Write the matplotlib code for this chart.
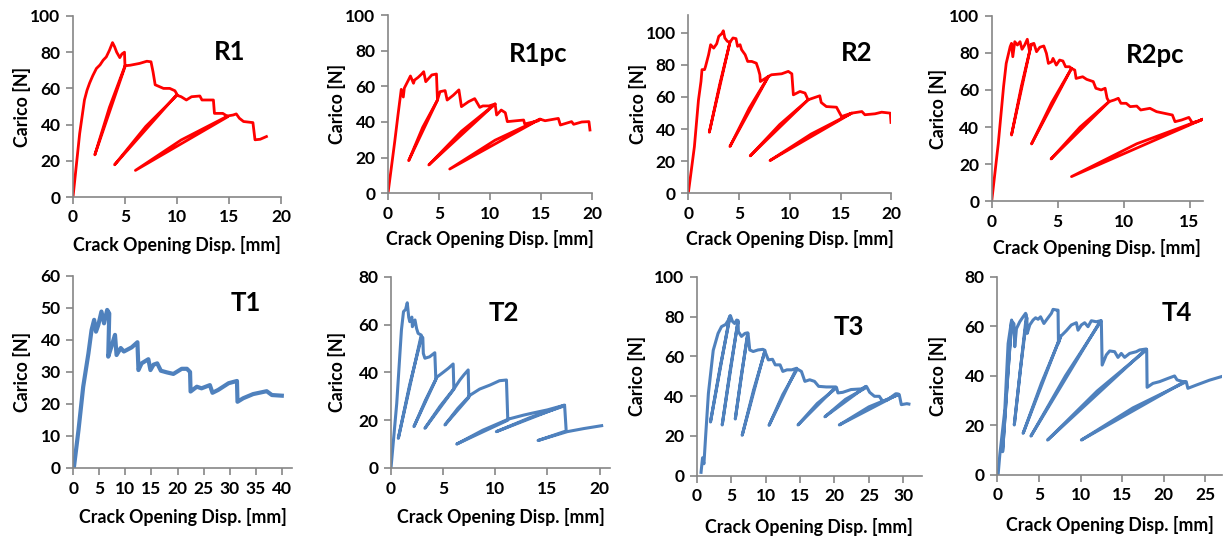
import matplotlib
matplotlib.use('Agg')
import matplotlib.pyplot as plt

plt.rcParams['font.family'] = ['Lato', 'DejaVu Sans']
plt.rcParams['font.weight'] = 'bold'

RED = '#ff0000'
BLUE = '#4f81bd'

# ---- top row (red) ----
r1_x = [0, 0.64, 1.1, 1.35, 1.6, 1.9, 2.25, 2.6, 2.9, 3.2, 3.5, 3.8, 4.0, 4.2, 4.5, 4.7, 4.95, 5.0,
		2.1, 3.5, 5.0, 5.5, 6.4, 7.1, 7.5, 7.7, 7.9, 8.7, 9.3, 9.8, 10.0,
		4.0, 7.0, 10.0, 10.4, 10.9, 11.4, 12.2, 12.4, 13.5, 13.6, 14.4, 14.9,
		6.0, 10.4, 14.9, 15.4, 15.7, 16.0, 16.4, 17.3, 17.5, 18.0, 18.6]
r1_y = [0, 35, 53.6, 59, 63, 67, 71, 73, 75.6, 77.4, 81, 85.3, 83, 80, 77, 79, 80, 72,
		23.3, 49.5, 72.5, 72.8, 73.8, 75, 74.7, 69, 62, 60, 60, 58.7, 56.7,
		17.8, 39, 56.2, 55.4, 53.6, 55.4, 55.8, 53.6, 53.6, 46.2, 46.2, 44.4,
		14.7, 31.5, 44.8, 45.3, 45.9, 43.5, 41.7, 41.1, 31.6, 31.9, 33.4]

r1pc_x = [0, 0.66, 0.98, 1.3, 1.5, 1.6, 2.0, 2.2, 2.5, 2.6, 2.95, 3.3, 3.5, 3.7, 4.0, 4.3, 4.75, 4.85,
		2.03, 3.4, 4.85, 5.1, 5.6, 5.8, 6.4, 6.95, 7.2, 7.9, 8.5, 9.0, 9.3, 9.9, 10.5,
		4.0, 7.2, 10.5, 10.65, 11.1, 11.5, 11.7, 13.3, 13.4, 14.75, 14.9,
		6.05, 10.5, 14.9, 15.4, 16.7, 16.9, 18.0, 18.2, 19.0, 19.7, 19.8]
r1pc_y = [0, 29, 44, 58.3, 54, 59, 63.5, 65.8, 61.7, 63.5, 65, 66.9, 68.2, 62.6, 64.5, 66.4, 66.9, 52.3,
		18.3, 37, 52.3, 57, 57.6, 52.3, 55, 58, 48.6, 51.4, 53.1, 48.2, 49, 49, 50.1,
		15.9, 34.8, 50.1, 43.9, 46.7, 45.2, 40.2, 41.1, 38.9, 40.7, 41.6,
		13.6, 29.8, 41.6, 40.7, 42, 38.3, 40.2, 38.7, 40, 40.2, 35.5]

r2_x = [0, 0.6, 1.0, 1.25, 1.35, 1.6, 1.7, 2.0, 2.2, 2.5, 2.8, 3.0, 3.3, 3.45, 3.6, 3.85, 4.1,
		2.07, 3.1, 4.1, 4.4, 4.7, 4.85, 5.1, 5.25, 5.6, 5.85, 6.25, 6.7, 6.9, 7.05, 7.1, 7.9,
		4.1, 6.0, 7.9, 8.2, 9.2, 9.85, 10.2, 10.35, 11.0, 11.5, 11.8,
		6.1, 9.0, 11.8, 12.3, 12.95, 13.1, 13.6, 14.6, 15.1, 15.8, 16.1,
		8.05, 12.1, 16.1, 17.1, 17.4, 18.4, 19.05, 19.9, 19.97]
r2_y = [0, 29, 58, 69.6, 77, 77, 79, 86.3, 92.5, 90.4, 93.1, 97.7, 99.4, 101.2, 96.7, 94.6, 94,
		38, 68, 94, 96.7, 96.3, 91.5, 92.5, 89.4, 86.3, 82.1, 82.1, 81, 77.3, 73.8, 69.6, 72.8,
		29.1, 53, 72.8, 73.8, 74.4, 75.9, 74.4, 61.3, 63.4, 62.4, 58.2,
		23.3, 42.8, 58.2, 59.3, 60.7, 56.5, 54, 53.6, 47.8, 49.3, 49.9,
		20.4, 36.9, 49.9, 50.9, 48.9, 49.5, 50.5, 49.9, 44.1]

r2pc_x = [0, 0.5, 0.9, 1.1, 1.25, 1.4, 1.5, 1.6, 1.75, 1.95, 2.15, 2.3, 2.5, 2.7, 2.85, 3.0,
		1.5, 2.25, 3.0, 3.2, 3.4, 3.65, 3.95, 4.15, 4.3, 4.55, 4.65, 4.9, 5.15, 5.4, 5.6, 5.9, 6.05,
		3.02, 4.55, 6.05, 6.3, 6.4, 6.9, 7.2, 7.7, 7.9, 8.3, 8.6, 8.75, 8.9,
		4.5, 6.7, 8.9, 9.3, 9.6, 9.8, 10.2, 10.5, 11.0, 11.3, 12.0, 12.5, 13.1, 13.7, 13.9, 14.4,
		14.95, 15.2, 15.6, 16.0, 6.05, 11.0, 16.0]
r2pc_y = [0, 31.2, 61.8, 74.3, 78.8, 83.3, 85.1, 77.9, 86, 84.2, 86, 81.9, 84.2, 87.3, 81.5, 84.6,
		35.7, 62, 84.6, 85.1, 80.6, 83, 83.7, 79.7, 74.3, 75.2, 77, 73.4, 76.1, 75.6, 72.5, 72.5, 71.6,
		30.9, 53.2, 71.6, 70.7, 66.2, 67.1, 65.7, 64.5, 60.9, 60, 60.9, 55.5, 53.7,
		22.8, 40, 53.7, 54.6, 55.5, 52.8, 52.8, 51, 51.3, 49.2, 50.1, 48.3, 47.4, 46.5, 42.9, 43.8,
		45.2, 42.4, 42.9, 44.2, 13.3, 31, 44.2]

# ---- bottom row (blue) ----
t1_x = [0.1, 1.0, 1.9, 2.9, 3.5, 4.0, 4.35, 4.8, 5.4, 5.9, 6.5, 6.9, 6.7, 7.4, 8.0, 8.3, 9.1, 9.7,
		11.2, 12.3, 12.5, 13.1, 14.4, 14.8, 15.4, 16.1, 16.8, 17.9, 19.2, 20.8, 21.8, 22.4, 22.5,
		23.7, 24.6, 26.2, 26.7, 27.8, 29.8, 31.4, 31.5, 32.6, 34.5, 37.1, 38.1, 40.0]
t1_y = [0, 11.9, 25.4, 35.8, 43.1, 46.3, 42.6, 44.7, 48.9, 45.2, 49.4, 48.3, 34.8, 38.4, 41.6, 35.3, 37.5, 36.4,
		37.7, 39.3, 30.6, 32.7, 34, 30.6, 32.3, 32.7, 30.4, 29.9, 29.4, 31, 31, 30, 23.9,
		25.4, 24.9, 25.9, 23.5, 24.4, 26.5, 27.2, 20.7, 21.8, 23.1, 24, 22.8, 22.6]

t2_x = [0, 0.55, 1.0, 1.2, 1.4, 1.56, 1.7, 1.8, 2.0, 2.05, 2.3, 2.45, 2.6, 2.9,
		0.7, 1.8, 2.95, 3.05, 3.1, 3.25, 3.7, 4.2, 4.3,
		2.2, 3.3, 4.4, 5.0, 5.5, 5.96, 6.03,
		3.25, 4.7, 6.1, 6.6, 7.0, 7.4, 7.46,
		5.17, 6.4, 7.6, 8.5, 9.5, 10.4, 11.07, 11.2,
		6.3, 8.8, 11.3, 12.7, 13.5, 15.0, 16.65,
		10.1, 13.4, 16.65, 16.8, 14.1, 16.9, 18.5, 20.2]
t2_y = [0, 27, 57.7, 65.4, 66.3, 69.1, 63, 61.2, 63.1, 59.1, 61.9, 58.4, 56.3, 55.6,
		12.4, 35, 55, 54.5, 47.9, 45.9, 46.5, 48.2, 37,
		17.3, 28.3, 38, 40, 41.7, 43.5, 33,
		16.6, 25.8, 33.5, 36.8, 39, 41, 29.5,
		18, 24.9, 30.5, 33, 34.7, 36.5, 36.8, 20,
		10, 15.8, 20.5, 22.1, 22.9, 24.3, 26.3,
		15.2, 21.2, 26, 15.5, 11.5, 15.2, 16.5, 17.7]

t3_x = [0.63, 0.85, 1.05, 1.3, 1.7, 2.4, 3.1, 3.6, 4.2, 4.6, 4.8,
		2.0, 3.4, 4.85, 4.9, 5.2, 5.5, 5.8, 6.0,
		3.7, 4.85, 6.0, 6.05, 6.5, 7.0, 7.4,
		5.6, 6.5, 7.45, 7.7, 8.2, 8.9, 9.6, 9.9,
		6.6, 8.25, 9.9, 10.4, 11.0, 11.4, 12.1, 12.5, 13.1, 13.8, 14.5,
		10.5, 12.5, 14.6, 15.2, 15.7, 16.4, 17.1, 17.7, 18.8, 20.2,
		14.7, 17.5, 20.3, 20.5, 21.2, 22.4, 23.9, 24.6,
		18.6, 21.6, 24.7, 25.1, 25.8, 26.5, 27.0, 27.7, 28.9, 29.3,
		20.7, 25.0, 29.35, 29.4, 29.7, 30.5, 30.8]
t3_y = [1.7, 9, 6, 20, 41.4, 63, 71.5, 74.9, 76, 78.2, 80.2,
		27, 54.5, 80, 80.4, 77.5, 76.5, 78.2, 78,
		25.5, 53, 77.5, 72.4, 70, 71.5, 71.8,
		28.5, 51, 71.5, 63.2, 62.4, 63.2, 63.5, 63,
		20.3, 43, 62.5, 58.2, 58.5, 55.7, 55.7, 52.4, 53.2, 53.2, 54,
		25.3, 40.8, 53.6, 52.4, 47.4, 48.2, 47.4, 44.9, 44.6, 44.6,
		25.5, 36.3, 44.2, 41.6, 41.9, 43.3, 43.6, 44.9,
		29.6, 38.4, 44.5, 41.9, 39.9, 39.9, 37.4, 38.2, 41.2, 41,
		25.5, 34.6, 40.8, 40.7, 35.7, 36.2, 36]

t4_x = [0.1, 0.3, 0.9, 1.3, 1.72,
		0.64, 1.2, 1.75, 2.0, 2.1, 2.3, 2.7, 3.1, 3.4, 3.5,
		2.04, 2.8, 3.55, 3.6, 3.9, 4.3, 4.6, 4.9, 5.2, 5.6, 5.9, 6.5, 6.7, 7.2, 7.3, 7.35, 7.6,
		3.1, 5.3, 7.65, 8.3, 8.9, 9.5, 9.7, 10.1, 10.5, 10.9, 11.3, 11.9, 12.4,
		4.04, 8.2, 12.45, 12.5, 12.6, 13.1, 13.5, 14.1, 14.5, 14.9, 15.3, 15.9, 16.7, 17.1, 17.9,
		6.04, 12.0, 17.95, 18.0, 18.7, 19.5, 20.5, 21.3, 21.6, 22.3, 22.5,
		10.1, 16.3, 22.6, 22.7, 22.9, 23.9, 25.5, 26.9]
t4_y = [0, 8, 26, 53, 62.5,
		9.3, 37.5, 62, 61, 51.7, 59, 61.8, 63.8, 65.2, 64.5,
		20.1, 43.3, 63.5, 57.1, 60.5, 62.5, 63.4, 62.8, 63.8, 61.1, 62.5, 65.2, 66.8, 66.5, 66.5, 53.1, 56,
		16.7, 37, 56, 58.2, 60.5, 61.4, 58.4, 60.5, 61.4, 59.8, 62.2, 61.8, 62.2,
		15.6, 40, 62, 62.2, 44.3, 48.4, 50, 49.7, 47.4, 49, 47.4, 49, 49.7, 50.4, 50.8,
		14.0, 33.8, 50.5, 35.3, 36.9, 37.6, 38.9, 39.9, 38.3, 37.6, 37.6,
		14.0, 27, 37.4, 37.6, 34.9, 36.2, 38.2, 39.6]

W, H = 1223, 540


def panel(fig, box, x, y, color, lw, xmax, xticks, ymax, yticks, name, name_pos, lab_off):
	# box = left, right, top, bottom in pixels; lab_off = (ylabel px left of axis, xlabel px below axis)
	l, r, t, b = box
	ax = fig.add_axes([l / W, 1 - b / H, (r - l) / W, (b - t) / H])
	ax.plot(x, y, color=color, lw=lw, solid_joinstyle='round')
	ax.set_xlim(0, xmax)
	ax.set_ylim(0, ymax)
	ax.set_xticks(xticks)
	ax.set_yticks(yticks)
	ax.spines['top'].set_visible(False)
	ax.spines['right'].set_visible(False)
	for s in ['left', 'bottom']:
		ax.spines[s].set_color('#868686')
		ax.spines[s].set_linewidth(1.2)
	ax.tick_params(direction='out', length=5, width=1.2, color='#868686', labelsize=12.5, pad=4)
	for lab in ax.get_xticklabels() + ax.get_yticklabels():
		lab.set_fontweight('bold')
	ax.set_xlabel('Crack Opening Disp. [mm]', fontsize=12.8, fontweight='bold', va='center')
	ax.set_ylabel('Carico [N]', fontsize=12.8, fontweight='bold', va='center')
	ax.yaxis.set_label_coords(-lab_off[0] / (r - l), 0.5)
	ax.xaxis.set_label_coords(0.5, -lab_off[1] / (b - t))
	ax.text(name_pos[0], name_pos[1], name, transform=ax.transAxes, fontsize=18.5,
			fontweight='bold', ha='center', va='center')
	ax.patch.set_alpha(0)
	return ax


fig = plt.figure(figsize=(W / 100, H / 100), dpi=100)

panel(fig, (73, 281, 16, 197), r1_x, r1_y, RED, 2.0, 20, [0, 5, 10, 15, 20], 100,
	[0, 20, 40, 60, 80, 100], 'R1', (0.755, 0.80), (51.3, 48))
panel(fig, (388, 592, 15, 193.3), r1pc_x, r1pc_y, RED, 2.0, 20, [0, 5, 10, 15, 20], 100,
	[0, 20, 40, 60, 80, 100], 'R1pc', (0.737, 0.78), (51.3, 46))
panel(fig, (688.3, 891.3, 15, 193.3), r2_x, r2_y, RED, 2.0, 20, [0, 5, 10, 15, 20], 111,
	[0, 20, 40, 60, 80, 100], 'R2', (0.83, 0.785), (50.6, 46))
panel(fig, (991.7, 1202.7, 15.7, 201.3), r2pc_x, r2pc_y, RED, 2.0, 16, [0, 5, 10, 15], 100,
	[0, 20, 40, 60, 80, 100], 'R2pc', (0.774, 0.79), (53.4, 47))

panel(fig, (73.3, 291.7, 276, 468), t1_x, t1_y, BLUE, 3.0, 41.9, [0, 5, 10, 15, 20, 25, 30, 35, 40], 60,
	[0, 10, 20, 30, 40, 50, 60], 'T1', (0.79, 0.858), (51.6, 48.7))
panel(fig, (391, 610, 276.7, 468), t2_x, t2_y, BLUE, 2.2, 21, [0, 5, 10, 15, 20], 80,
	[0, 20, 40, 60, 80], 'T2', (0.513, 0.81), (54.3, 49.3))
panel(fig, (696.7, 922, 276.7, 475.7), t3_x, t3_y, BLUE, 2.2, 32.7, [0, 5, 10, 15, 20, 25, 30], 100,
	[0, 20, 40, 60, 80, 100], 'T3', (0.674, 0.749), (60, 51))
panel(fig, (997.3, 1222, 276.7, 474.7), t4_x, t4_y, BLUE, 2.2, 27, [0, 5, 10, 15, 20, 25], 80,
	[0, 20, 40, 60, 80], 'T4', (0.80, 0.815), (59, 50.3))

plt.savefig('out.png', dpi=100)
